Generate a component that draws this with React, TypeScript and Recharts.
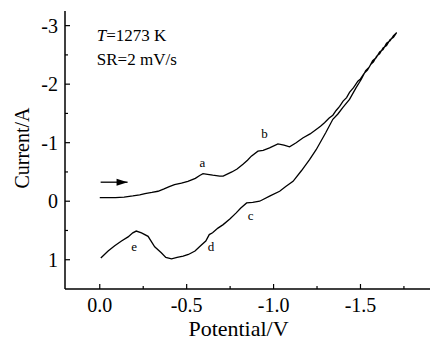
import React from 'react';
import { ComposedChart, Line, XAxis, YAxis, ReferenceDot, ReferenceLine } from 'recharts';

// forward scan (0 -> -1.7 V)
const forwardPotential = [
  0.0, -0.04, -0.09, -0.14, -0.19, -0.23, -0.26, -0.3, -0.335, -0.37, -0.4, -0.43, -0.47, -0.507,
  -0.55, -0.575, -0.594, -0.62, -0.65, -0.69, -0.71, -0.76, -0.79, -0.824, -0.85, -0.872, -0.91,
  -0.94, -0.977, -1.025, -1.06, -1.092, -1.13, -1.168, -1.21, -1.245, -1.27, -1.293, -1.32, -1.341,
  -1.36, -1.38, -1.4, -1.42, -1.437, -1.46, -1.485, -1.5, -1.52, -1.54, -1.56, -1.575, -1.593,
  -1.61, -1.63, -1.65, -1.67, -1.69, -1.708,
];
const forwardCurrent = [
  -0.06, -0.06, -0.06, -0.07, -0.09, -0.11, -0.13, -0.15, -0.17, -0.21, -0.25, -0.285, -0.31, -0.34,
  -0.39, -0.44, -0.47, -0.46, -0.445, -0.43, -0.43, -0.5, -0.55, -0.63, -0.7, -0.77, -0.855,
  -0.87, -0.91, -0.98, -0.96, -0.93, -1.0, -1.08, -1.15, -1.225, -1.28, -1.34, -1.42, -1.47,
  -1.55, -1.62, -1.71, -1.77, -1.86, -1.94, -2.05, -2.09, -2.18, -2.24, -2.34, -2.38, -2.48,
  -2.52, -2.62, -2.66, -2.76, -2.8, -2.88,
];

// reverse scan (-1.7 -> 0 V)
const reversePotential = [
  -1.69, -1.67, -1.65, -1.63, -1.61, -1.59, -1.57, -1.55, -1.53, -1.504, -1.475, -1.437, -1.398,
  -1.37, -1.341, -1.3, -1.245, -1.207, -1.16, -1.112, -1.07, -1.035, -0.98, -0.92, -0.88, -0.845,
  -0.81, -0.785, -0.75, -0.71, -0.68, -0.649, -0.63, -0.61, -0.58, -0.548, -0.51, -0.48, -0.445,
  -0.413, -0.38, -0.354, -0.316, -0.278, -0.24, -0.21, -0.19, -0.163, -0.125, -0.086, -0.048, -0.006,
];
const reverseCurrent = [
  -2.83, -2.74, -2.7, -2.59, -2.55, -2.45, -2.4, -2.29, -2.23, -2.08, -1.94, -1.74, -1.6,
  -1.49, -1.4, -1.17, -0.88, -0.71, -0.52, -0.34, -0.25, -0.17, -0.09, 0.0, 0.02, 0.03,
  0.12, 0.2, 0.3, 0.4, 0.46, 0.54, 0.57, 0.68, 0.76, 0.85, 0.91, 0.94, 0.96,
  0.985, 0.96, 0.88, 0.78, 0.6, 0.54, 0.51, 0.54, 0.61, 0.68, 0.76, 0.85, 0.97,
];

const xMajorTicks = [0, -0.5, -1, -1.5];
const xMinorTicks = [-0.25, -0.75, -1.25, -1.75];
const yMajorTicks = [-3, -2, -1, 0, 1];
const yMinorTicks = [-2.5, -1.5, -0.5, 0.5];

const peakLabels = ['a', 'b', 'c', 'd', 'e'];
const peakPotential = [-0.59, -0.948, -0.868, -0.64, -0.198];
const peakCurrent = [-0.645, -1.14, 0.245, 0.775, 0.79];

const arrowPotential = [-0.005, -0.16];
const arrowCurrent = -0.325;

const notePotential = 0.017;
const noteCurrent = -2.735;

const data = [
  ...forwardPotential.map((v, k) => ({ v, i: forwardCurrent[k] })),
  ...reversePotential.map((v, k) => ({ v, i: reverseCurrent[k] })),
];

const font = "'Liberation Serif', 'Times New Roman', serif";
const xTicks = [...xMajorTicks, ...xMinorTicks].sort((a, b) => b - a);
const yTicks = [...yMajorTicks, ...yMinorTicks].sort((a, b) => a - b);

const BottomTick = (props: any) => {
  const { x, y, payload } = props;
  const major = xMajorTicks.includes(payload.value);
  const axisY = y - 9;
  return (
    <g>
      <line x1={x} x2={x} y1={axisY} y2={axisY - (major ? 5 : 3)} stroke="#000" strokeWidth={1.2} />
      {major && (
        <text x={x} y={y} dy="0.71em" textAnchor="middle" fontSize={20} fontFamily={font} fill="#000">
          {payload.value.toFixed(1)}
        </text>
      )}
    </g>
  );
};

const TopTick = (props: any) => {
  const { x, y, payload } = props;
  const major = xMajorTicks.includes(payload.value);
  return <line x1={x} x2={x} y1={y} y2={y + (major ? 5 : 3)} stroke="#000" strokeWidth={1.2} />;
};

const LeftTick = (props: any) => {
  const { x, y, payload } = props;
  const major = yMajorTicks.includes(payload.value);
  const axisX = x + 7;
  return (
    <g>
      <line x1={axisX} x2={axisX + (major ? 5 : 3)} y1={y} y2={y} stroke="#000" strokeWidth={1.2} />
      {major && (
        <text x={x} y={y} dy="0.35em" textAnchor="end" fontSize={20} fontFamily={font} fill="#000">
          {payload.value}
        </text>
      )}
    </g>
  );
};

export default function App() {
  return (
    <div style={{ width: 430, height: 341, background: '#fff' }}>
      <style>{'body{margin:0}'}</style>
      <ComposedChart width={430} height={341} data={data} margin={{ top: 11, right: 0, bottom: 0, left: 0 }}>
        <XAxis
          dataKey="v"
          type="number"
          domain={[-1.9, 0.2]}
          allowDataOverflow
          reversed
          ticks={xTicks}
          interval={0}
          height={52}
          tickSize={0}
          tickMargin={9}
          tickLine={false}
          tick={<BottomTick />}
          axisLine={{ stroke: '#000', strokeWidth: 1.5 }}
          label={{
            content: (p: any) => (
              <text
                x={p.viewBox.x + p.viewBox.width / 2 - 9}
                y={p.viewBox.y + 47}
                textAnchor="middle"
                fontSize={22}
                fontFamily={font}
                fill="#000"
              >
                Potential/V
              </text>
            ),
          }}
        />
        <XAxis
          xAxisId="top"
          orientation="top"
          dataKey="v"
          type="number"
          domain={[-1.9, 0.2]}
          allowDataOverflow
          reversed
          ticks={xTicks}
          interval={0}
          height={0}
          tickSize={0}
          tickMargin={0}
          tickLine={false}
          tick={<TopTick />}
          axisLine={{ stroke: '#000', strokeWidth: 1.5 }}
        />
        <YAxis
          type="number"
          domain={[-3.25, 1.5]}
          allowDataOverflow
          reversed
          ticks={yTicks}
          interval={0}
          width={65}
          tickSize={0}
          tickMargin={7}
          tickLine={false}
          tick={<LeftTick />}
          axisLine={{ stroke: '#000', strokeWidth: 1.5 }}
          label={{
            content: (p: any) => {
              const cx = p.viewBox.x + 22;
              const cy = p.viewBox.y + p.viewBox.height / 2 - 2;
              return (
                <text
                  x={cx}
                  y={cy}
                  dy="0.35em"
                  transform={`rotate(-90 ${cx} ${cy})`}
                  textAnchor="middle"
                  fontSize={20}
                  fontFamily={font}
                  fill="#000"
                >
                  Current/A
                </text>
              );
            },
          }}
        />
        <Line
          dataKey="i"
          type="linear"
          stroke="#000"
          strokeWidth={1.3}
          dot={false}
          activeDot={false}
          isAnimationActive={false}
        />
        {peakLabels.map((t, k) => (
          <ReferenceDot
            key={t}
            x={peakPotential[k]}
            y={peakCurrent[k]}
            r={0}
            shape={(p: any) => (
              <text x={p.cx} y={p.cy} dy={4} textAnchor="middle" fontSize={13} fontFamily={font} fill="#000">
                {t}
              </text>
            )}
          />
        ))}
        <ReferenceLine
          segment={[
            { x: arrowPotential[0], y: arrowCurrent },
            { x: arrowPotential[1], y: arrowCurrent },
          ]}
          stroke="#000"
          strokeWidth={1.3}
        />
        <ReferenceDot
          x={arrowPotential[1]}
          y={arrowCurrent}
          r={0}
          shape={(p: any) => (
            <path d={`M${p.cx},${p.cy}L${p.cx - 11},${p.cy - 3.5}L${p.cx - 11},${p.cy + 3.5}Z`} fill="#000" />
          )}
        />
        <ReferenceDot
          x={notePotential}
          y={noteCurrent}
          r={0}
          shape={(p: any) => (
            <g fontFamily={font} fontSize={17} fill="#000">
              <text x={p.cx} y={p.cy}>
                <tspan fontStyle="italic">T</tspan>=1273 K
              </text>
              <text x={p.cx} y={p.cy + 24}>SR=2 mV/s</text>
            </g>
          )}
        />
      </ComposedChart>
    </div>
  );
}
